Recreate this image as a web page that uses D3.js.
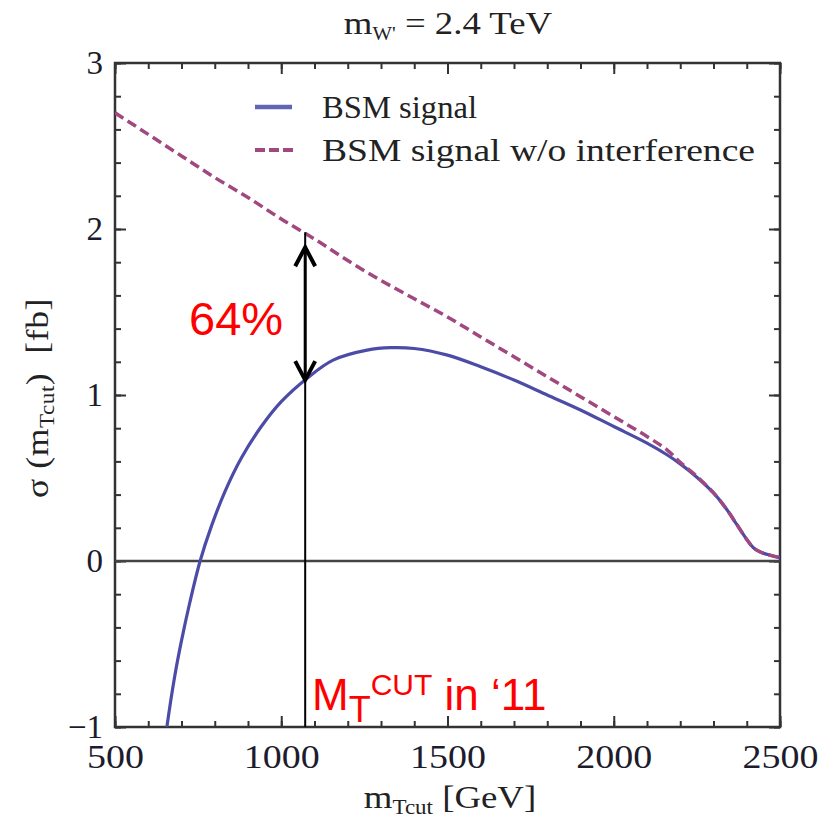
<!DOCTYPE html>
<html>
<head>
<meta charset="utf-8">
<script src="https://cdnjs.cloudflare.com/ajax/libs/d3/7.8.5/d3.min.js"></script>
<style>
  html, body { margin: 0; padding: 0; background: #fff; }
  svg { display: block; }
</style>
</head>
<body>
<svg id="chart" width="838" height="821"></svg>
<script>
// ---- data ----
const signalX = [640, 656, 680, 700, 725, 756, 790, 830, 880, 940, 1000, 1077, 1156, 1258, 1330, 1400, 1500, 1600, 1700, 1800, 1900, 2000, 2100, 2160, 2200, 2250, 2300, 2340, 2370, 2400, 2420, 2440, 2470, 2500];
const signalY = [-1.25, -1.00, -0.69, -0.48, -0.25, 0.00, 0.21, 0.415, 0.62, 0.81, 0.96, 1.10, 1.21, 1.27, 1.285, 1.28, 1.24, 1.17, 1.09, 1.00, 0.91, 0.81, 0.71, 0.64, 0.585, 0.505, 0.41, 0.31, 0.22, 0.13, 0.08, 0.055, 0.035, 0.02];
const noIntX = [500, 600, 700, 800, 900, 1000, 1100, 1200, 1300, 1400, 1500, 1600, 1700, 1800, 1900, 2000, 2100, 2160, 2200, 2250, 2300, 2340, 2370, 2400, 2420, 2440, 2470, 2500];
const noIntY = [2.70, 2.57, 2.44, 2.31, 2.19, 2.06, 1.94, 1.81, 1.69, 1.58, 1.47, 1.35, 1.23, 1.11, 0.99, 0.87, 0.75, 0.67, 0.595, 0.51, 0.41, 0.31, 0.22, 0.13, 0.08, 0.055, 0.035, 0.02];
const xTicks = [500, 1000, 1500, 2000, 2500];
const yTicks = [-1, 0, 1, 2, 3];
const seriesNames = ["BSM signal", "BSM signal w/o interference"];
const cutValue = 1072;          // M_T cut used in 2011
const cutLineTop = 1.98;
const arrowTop = 1.89;
const arrowBottom = 1.09;
const ratioLabel = "64%";

// ---- layout ----
const svg = d3.select("#chart");
const pLeft = 115, pRight = 780, pTop = 63, pBottom = 727;
const x = d3.scaleLinear().domain([500, 2500]).range([pLeft, pRight]);
const y = d3.scaleLinear().domain([-1, 3]).range([pBottom, pTop]);

const serif = "'Liberation Serif', 'DejaVu Serif', serif";
const sans = "'Liberation Sans', Arial, sans-serif";
const axisCol = "#333";
const labelCol = "#1c1c2c";
const blue = "#4c4ca8";
const magenta = "#a0487f";

svg.append("defs").append("clipPath").attr("id", "plotclip")
  .append("rect").attr("x", pLeft).attr("y", pTop).attr("width", pRight - pLeft).attr("height", pBottom - pTop);

// ticks (minor + major, inward, on all four sides)
const minorX = d3.range(500, 2501, 100);
const minorY = d3.range(-1, 3.0001, 0.2);
function tickAxis(axisGen, tr, size, vals) {
  const g = svg.append("g").attr("transform", tr)
    .call(axisGen.tickValues(vals).tickSize(size).tickFormat(""));
  g.select(".domain").remove();
  g.selectAll(".tick line").attr("stroke", axisCol).attr("stroke-width", 2);
  return g;
}
tickAxis(d3.axisBottom(x), `translate(0,${pBottom})`, -6, minorX);
tickAxis(d3.axisTop(x), `translate(0,${pTop})`, -6, minorX);
tickAxis(d3.axisLeft(y), `translate(${pLeft},0)`, -6, minorY);
tickAxis(d3.axisRight(y), `translate(${pRight},0)`, -6, minorY);
tickAxis(d3.axisBottom(x), `translate(0,${pBottom})`, -11, xTicks);
tickAxis(d3.axisTop(x), `translate(0,${pTop})`, -11, xTicks);
tickAxis(d3.axisLeft(y), `translate(${pLeft},0)`, -11, yTicks);
tickAxis(d3.axisRight(y), `translate(${pRight},0)`, -11, yTicks);

// tick labels
const xl = svg.append("g").attr("transform", `translate(0,${pBottom})`)
  .call(d3.axisBottom(x).tickValues(xTicks).tickSize(0).tickPadding(40).tickFormat(d3.format("d")));
xl.select(".domain").remove();
xl.selectAll("text").attr("font-family", serif).attr("font-size", 34).attr("fill", labelCol)
  .attr("dy", 0).attr("y", 41).each(function(d){ d3.select(this).attr("textLength", 19 * String(d).length).attr("lengthAdjust", "spacingAndGlyphs"); });

const yl = svg.append("g").attr("transform", `translate(${pLeft},0)`)
  .call(d3.axisLeft(y).tickValues(yTicks).tickSize(0).tickPadding(12).tickFormat(d => d < 0 ? "\u2212" + Math.abs(d) : String(d)));
yl.select(".domain").remove();
yl.selectAll("text").attr("font-family", serif).attr("font-size", 33).attr("fill", labelCol).attr("dy", "0.32em");

// frame
svg.append("rect").attr("x", pLeft).attr("y", pTop).attr("width", pRight - pLeft).attr("height", pBottom - pTop)
  .attr("fill", "none").attr("stroke", axisCol).attr("stroke-width", 2.5);

// zero line
svg.append("line").attr("x1", pLeft).attr("x2", pRight).attr("y1", y(0)).attr("y2", y(0))
  .attr("stroke", "#444").attr("stroke-width", 2.5);

// curves (dashed drawn on top, as in the reference)
const line = d3.line().x(d => x(d[0])).y(d => y(d[1])).curve(d3.curveCatmullRom.alpha(0.5));
const plot = svg.append("g").attr("clip-path", "url(#plotclip)");
plot.append("path").datum(signalX.map((v, i) => [v, signalY[i]]))
  .attr("d", line).attr("fill", "none").attr("stroke", blue).attr("stroke-width", 3.2);
plot.append("path").datum(noIntX.map((v, i) => [v, noIntY[i]]))
  .attr("d", line).attr("fill", "none").attr("stroke", magenta).attr("stroke-width", 3.5)
  .attr("stroke-dasharray", "10,5");

// legend
const leg = svg.append("g");
const legY = [107, 150];
leg.append("line").attr("x1", 255).attr("x2", 292).attr("y1", legY[0]).attr("y2", legY[0])
  .attr("stroke", "#6464b4").attr("stroke-width", 4.5);
leg.append("line").attr("x1", 255).attr("x2", 294).attr("y1", legY[1]).attr("y2", legY[1])
  .attr("stroke", magenta).attr("stroke-width", 4).attr("stroke-dasharray", "10,4");
const legW = [155, 433];
seriesNames.forEach((n, i) => {
  leg.append("text").attr("x", 322).attr("y", legY[i] + 11).text(n)
    .attr("font-family", serif).attr("font-size", 31).attr("fill", "#222")
    .attr("textLength", legW[i]).attr("lengthAdjust", "spacingAndGlyphs");
});

// title
const title = svg.append("text").attr("transform", "translate(448,34) scale(1.15,1)").attr("text-anchor", "middle")
  .attr("font-family", serif).attr("font-size", 32).attr("fill", "#222");
title.append("tspan").text("m");
title.append("tspan").text("W'").attr("font-size", 18).attr("dy", 6);
title.append("tspan").text(" = 2.4 TeV").attr("dy", -6);

// axis titles
const xt = svg.append("text").attr("transform", "translate(450,808) scale(1.15,1)").attr("text-anchor", "middle")
  .attr("font-family", serif).attr("font-size", 32).attr("fill", "#222");
xt.append("tspan").text("m");
xt.append("tspan").text("Tcut").attr("font-size", 20).attr("dy", 6);
xt.append("tspan").text(" [GeV]").attr("dy", -6);

const yt = svg.append("text").attr("transform", "translate(48,398) rotate(-90) scale(1.15,1)").attr("text-anchor", "middle")
  .attr("font-family", serif).attr("font-size", 31).attr("fill", "#222").attr("letter-spacing", 0.5);
yt.append("tspan").text("\u03C3 (m");
yt.append("tspan").text("Tcut").attr("font-size", 20).attr("dy", 6);
yt.append("tspan").text(")\u00A0\u00A0[fb]").attr("dy", -6);

// annotation: cut line + double arrow
const ann = svg.append("g");
ann.append("line").attr("x1", x(cutValue)).attr("x2", x(cutValue)).attr("y1", y(cutLineTop)).attr("y2", y(-1))
  .attr("stroke", "#000").attr("stroke-width", 2);
ann.append("line").attr("x1", x(cutValue)).attr("x2", x(cutValue)).attr("y1", y(arrowTop)).attr("y2", y(arrowBottom))
  .attr("stroke", "#000").attr("stroke-width", 3);
const hx = x(cutValue), ht = y(arrowTop), hb = y(arrowBottom);
ann.append("path").attr("d", `M${hx - 10},${ht + 19} L${hx},${ht} L${hx + 10},${ht + 19}`)
  .attr("fill", "none").attr("stroke", "#000").attr("stroke-width", 4).attr("stroke-linejoin", "miter");
ann.append("path").attr("d", `M${hx - 10},${hb - 19} L${hx},${hb} L${hx + 10},${hb - 19}`)
  .attr("fill", "none").attr("stroke", "#000").attr("stroke-width", 4).attr("stroke-linejoin", "miter");

svg.append("text").attr("x", 189).attr("y", 335).text(ratioLabel)
  .attr("font-family", sans).attr("font-size", 47).attr("fill", "#ff0000");

const mt = svg.append("text").attr("x", 312).attr("y", 710)
  .attr("font-family", sans).attr("font-size", 44).attr("fill", "#ff0000");
mt.append("tspan").text("M");
mt.append("tspan").text("T").attr("font-size", 36).attr("dy", 12);
mt.append("tspan").text("CUT").attr("font-size", 30).attr("dy", -27);
mt.append("tspan").text(" in \u201811").attr("dy", 15);
</script>
</body>
</html>
